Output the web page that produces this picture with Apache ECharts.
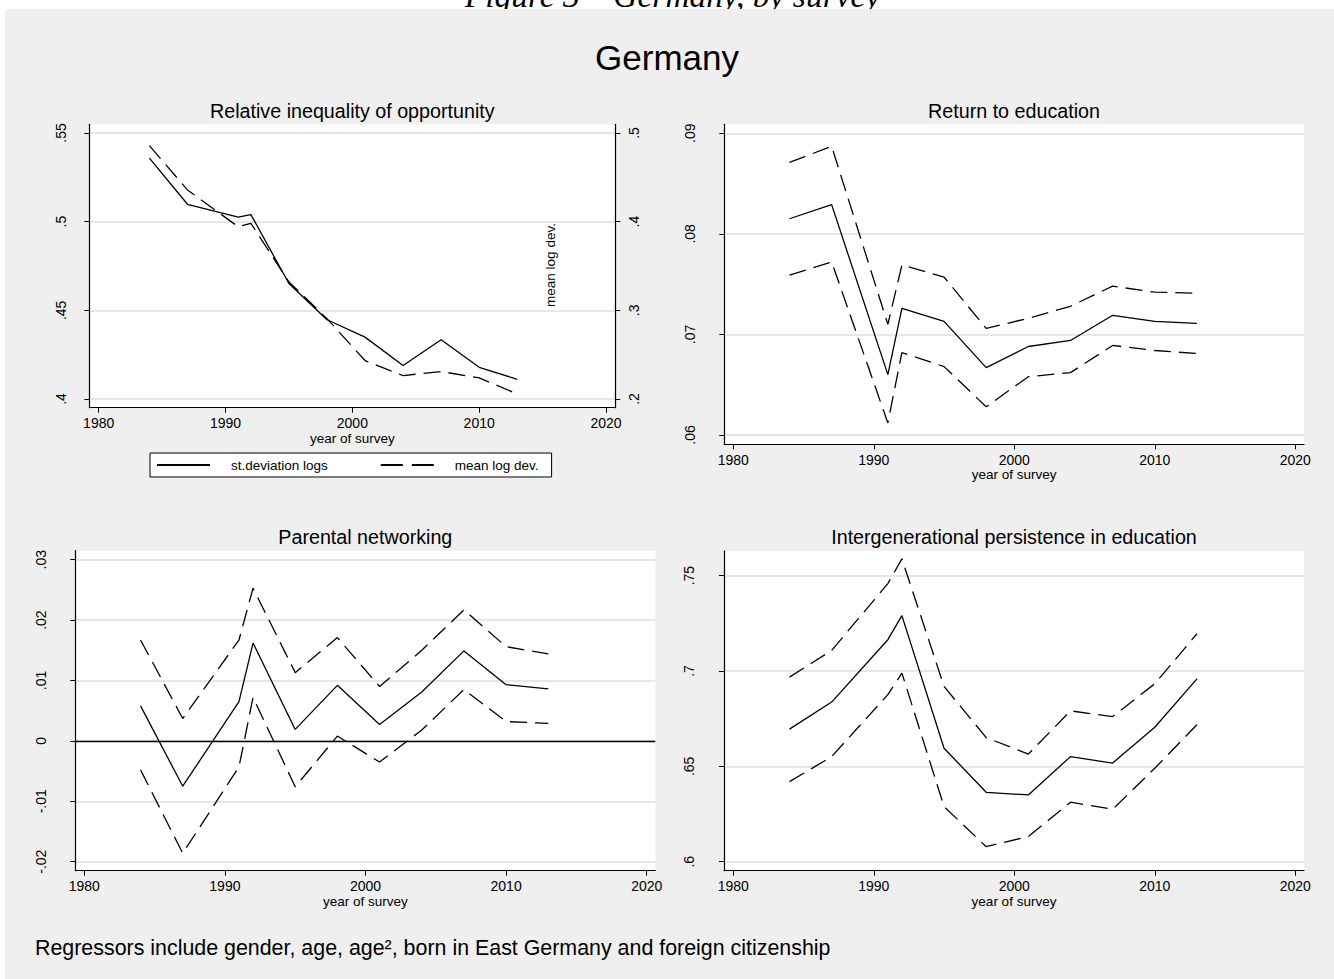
<!DOCTYPE html>
<html>
<head>
<meta charset="utf-8">
<script src="https://cdn.jsdelivr.net/npm/echarts@6/dist/echarts.min.js"></script>
<style>
html,body{margin:0;padding:0;background:#ffffff;}
#chart{width:1334px;height:979px;}
</style>
</head>
<body>
<div id="chart"></div>
<script>
// ---------------- data ----------------
const years = [1984, 1987, 1991, 1992, 1995, 1998, 2001, 2004, 2007, 2010, 2013];
const xTicks = [1980, 1990, 2000, 2010, 2020];

// Relative inequality of opportunity
const ineqSdLogs = [0.5358, 0.5098, 0.5025, 0.5040, 0.4651, 0.4447, 0.4349, 0.4189, 0.4334, 0.4179, 0.4111];
const ineqMeanLogDev = [0.4857, 0.4358, 0.3943, 0.3981, 0.3320, 0.2906, 0.2434, 0.2264, 0.2310, 0.2238, 0.2057];
const ineqLeftTicks = [0.4, 0.45, 0.5, 0.55];
const ineqRightTicks = [0.2, 0.3, 0.4, 0.5];

// Return to education
const eduEst = [0.0815, 0.0829, 0.0660, 0.0726, 0.0713, 0.0667, 0.0688, 0.0694, 0.0719, 0.0713, 0.0711];
const eduUpper = [0.0871, 0.0887, 0.0710, 0.0769, 0.0757, 0.0706, 0.0716, 0.0728, 0.0748, 0.0742, 0.0741];
const eduLower = [0.0759, 0.0772, 0.0612, 0.0682, 0.0668, 0.0628, 0.0658, 0.0662, 0.0689, 0.0684, 0.0681];
const eduTicks = [0.06, 0.07, 0.08, 0.09];

// Parental networking
const netEst = [0.0058, -0.0075, 0.0065, 0.0162, 0.0019, 0.0092, 0.0027, 0.0081, 0.0149, 0.0093, 0.0086];
const netUpper = [0.0167, 0.0037, 0.0167, 0.0253, 0.0113, 0.0171, 0.0090, 0.0150, 0.0217, 0.0156, 0.0144];
const netLower = [-0.0048, -0.0186, -0.0043, 0.0072, -0.0076, 0.0008, -0.0035, 0.0018, 0.0085, 0.0032, 0.0029];
const netTicks = [-0.02, -0.01, 0, 0.01, 0.02, 0.03];

// Intergenerational persistence in education
const persEst = [0.6695, 0.6837, 0.7164, 0.7290, 0.6595, 0.6364, 0.6350, 0.6551, 0.6517, 0.6705, 0.6959];
const persUpper = [0.6968, 0.7108, 0.7458, 0.7588, 0.6919, 0.6651, 0.6564, 0.6791, 0.6761, 0.6933, 0.7195];
const persLower = [0.6420, 0.6551, 0.6876, 0.6989, 0.6289, 0.6079, 0.6132, 0.6312, 0.6275, 0.6490, 0.6718];
const persTicks = [0.6, 0.65, 0.7, 0.75];

// ---------------- styling ----------------
const FONT = "'Liberation Sans', Arial, sans-serif";
const FS = 14;
const BG = '#efefef';
const GRIDLINE = '#e6e6e6';

function fmt(v) {
  return String(+(+v).toFixed(4)).replace(/^(-?)0\./, '$1.');
}

function xAxisCfg(gridIndex, min, max) {
  return {
    type: 'value', gridIndex: gridIndex, min: min, max: max,
    axisLine: { show: true, onZero: false, lineStyle: { color: '#000', width: 1.2 } },
    axisTick: { show: true, inside: false, length: 5, customValues: xTicks, lineStyle: { color: '#000', width: 1 } },
    axisLabel: { show: true, customValues: xTicks, margin: 8.5, color: '#000', fontSize: FS, fontFamily: FONT,
      formatter: function (v) { return String(v); } },
    splitLine: { show: false },
    name: 'year of survey', nameLocation: 'middle', nameGap: 23.5,
    nameTextStyle: { color: '#000', fontSize: 13.5, fontFamily: FONT }
  };
}

function yAxisCfg(gridIndex, min, max, ticks, margin, position, grid) {
  return {
    type: 'value', gridIndex: gridIndex, min: min, max: max, position: position || 'left',
    axisLine: { show: true, onZero: false, lineStyle: { color: '#000', width: 1.2 } },
    axisTick: { show: true, inside: false, length: 5, customValues: ticks, lineStyle: { color: '#000', width: 1 } },
    axisLabel: { show: true, customValues: ticks, rotate: 90, margin: margin, color: '#000', fontSize: FS,
      fontFamily: FONT, formatter: fmt },
    splitLine: { show: grid !== false, lineStyle: { color: GRIDLINE, width: 2 } }
  };
}

function lineSeries(name, xi, yi, vals, dashed, extra) {
  const s = {
    type: 'line', name: name, xAxisIndex: xi, yAxisIndex: yi,
    data: years.map(function (y, i) { return [y, vals[i]]; }),
    symbol: 'none', showSymbol: false, silent: true, animation: false, z: 3,
    lineStyle: { color: '#000', width: 1.3, type: dashed ? [17, 8] : 'solid' },
    itemStyle: { color: '#000' }
  };
  return Object.assign(s, extra || {});
}

const gridBase = { show: true, backgroundColor: '#ffffff', borderWidth: 0, containLabel: false, outerBoundsMode: 'none' };

const option = {
  backgroundColor: BG,
  animation: false,
  grid: [
    Object.assign({ left: 89.3, top: 124.3, width: 526, height: 283.4 }, gridBase),
    Object.assign({ left: 724.3, top: 124.3, width: 579.7, height: 320 }, gridBase),
    Object.assign({ left: 75.3, top: 550.7, width: 580, height: 320 }, gridBase),
    Object.assign({ left: 724, top: 551, width: 580, height: 319.7 }, gridBase)
  ],
  xAxis: [
    xAxisCfg(0, 1979.259, 2020.733),
    xAxisCfg(1, 1979.359, 2020.619),
    xAxisCfg(2, 1979.36, 2020.61),
    xAxisCfg(3, 1979.338, 2020.62)
  ],
  yAxis: [
    yAxisCfg(0, 0.3951, 0.5549, ineqLeftTicks, 21, 'left'),
    yAxisCfg(0, 0.1902, 0.5098, ineqRightTicks, 12, 'right', false),
    yAxisCfg(1, 0.059075, 0.09089, eduTicks, 27, 'left'),
    yAxisCfg(2, -0.02149, 0.03149, netTicks, 27, 'left'),
    yAxisCfg(3, 0.5953, 0.7629, persTicks, 28, 'left')
  ],
  legend: {
    data: [
      { name: 'st.deviation logs' },
      { name: 'mean log dev.', lineStyle: { type: [22, 9] } }
    ],
    left: 150, top: 453, orient: 'horizontal',
    backgroundColor: '#ffffff', borderColor: '#000', borderWidth: 1, borderRadius: 0,
    padding: [5, 13, 5, 6], itemGap: 52, itemWidth: 53, itemHeight: 14,
    selectedMode: false,
    itemStyle: { color: 'rgba(0,0,0,0)', borderColor: 'rgba(0,0,0,0)', borderWidth: 0, opacity: 0 },
    textStyle: { color: '#000', fontSize: 13.5, fontFamily: FONT, padding: [0, 0, 0, 16] }
  },
  graphic: [
    { type: 'rect', shape: { x: 0, y: 0, width: 1334, height: 9 }, style: { fill: '#ffffff' }, silent: true },
    { type: 'rect', shape: { x: 0, y: 0, width: 5, height: 979 }, style: { fill: '#ffffff' }, silent: true },
    { type: 'text', x: 672.5, y: -4.6, silent: true,
      style: { text: 'Figure 3 \u2013 Germany, by survey', fontSize: 33.5, fontStyle: 'italic',
        fontFamily: "'Liberation Serif', 'Times New Roman', serif", fill: '#000', align: 'center', verticalAlign: 'middle' } },
    { type: 'rect', shape: { x: 5, y: 9, width: 1329, height: 25 }, style: { fill: BG }, silent: true },
    { type: 'text', x: 667, y: 57, silent: true,
      style: { text: 'Germany', fontSize: 35, fontFamily: FONT, fill: '#000', align: 'center', verticalAlign: 'middle' } },
    { type: 'text', x: 352.3, y: 111, silent: true,
      style: { text: 'Relative inequality of opportunity', fontSize: 19.7, fontFamily: FONT, fill: '#000', align: 'center', verticalAlign: 'middle' } },
    { type: 'text', x: 1014, y: 111, silent: true,
      style: { text: 'Return to education', fontSize: 19.7, fontFamily: FONT, fill: '#000', align: 'center', verticalAlign: 'middle' } },
    { type: 'text', x: 365.3, y: 537, silent: true,
      style: { text: 'Parental networking', fontSize: 19.7, fontFamily: FONT, fill: '#000', align: 'center', verticalAlign: 'middle' } },
    { type: 'text', x: 1014, y: 537, silent: true,
      style: { text: 'Intergenerational persistence in education', fontSize: 19.7, fontFamily: FONT, fill: '#000', align: 'center', verticalAlign: 'middle' } },
    { type: 'text', x: 550, y: 265, rotation: Math.PI / 2, silent: true, z: 10,
      style: { text: 'mean log dev.', fontSize: 13.5, fontFamily: FONT, fill: '#000', align: 'center', verticalAlign: 'middle' } },
    { type: 'text', x: 35, y: 948, silent: true,
      style: { text: 'Regressors include gender, age, age\u00b2, born in East Germany and foreign citizenship', fontSize: 21.4,
        fontFamily: FONT, fill: '#000', align: 'left', verticalAlign: 'middle' } }
  ],
  series: [
    lineSeries('st.deviation logs', 0, 0, ineqSdLogs, false),
    lineSeries('mean log dev.', 0, 1, ineqMeanLogDev, true),

    lineSeries('Return estimate', 1, 2, eduEst, false),
    lineSeries('Return upper', 1, 2, eduUpper, true),
    lineSeries('Return lower', 1, 2, eduLower, true),

    lineSeries('Networking estimate', 2, 3, netEst, false, {
      markLine: { silent: true, symbol: ['none', 'none'], label: { show: false }, animation: false,
        lineStyle: { color: '#000', width: 1.3, type: 'solid' }, emphasis: { disabled: true },
        data: [{ yAxis: 0 }] }
    }),
    lineSeries('Networking upper', 2, 3, netUpper, true),
    lineSeries('Networking lower', 2, 3, netLower, true),

    lineSeries('Persistence estimate', 3, 4, persEst, false),
    lineSeries('Persistence upper', 3, 4, persUpper, true),
    lineSeries('Persistence lower', 3, 4, persLower, true)
  ]
};

const chart = echarts.init(document.getElementById('chart'), null, { renderer: 'svg' });
chart.setOption(option);
</script>
</body>
</html>
